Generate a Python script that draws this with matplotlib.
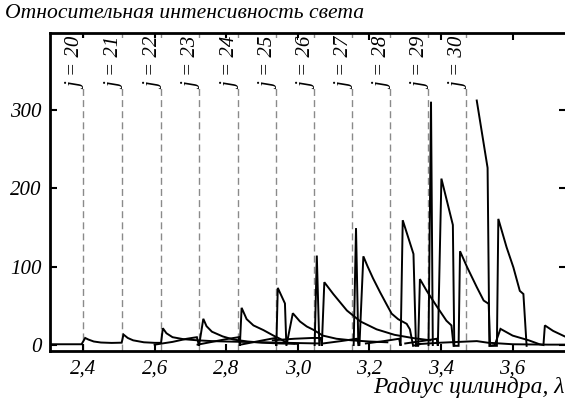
import numpy as np
import matplotlib
matplotlib.use("Agg")
import matplotlib.pyplot as plt
from matplotlib.transforms import offset_copy, blended_transform_factory

# ---------------- data ----------------
title_text = "Относительная интенсивность света"
xlabel_text = "Радиус цилиндра, λ"
x_ticks = [2.4, 2.6, 2.8, 3.0, 3.2, 3.4, 3.6]
x_ticklabels = ["2,4", "2,6", "2,8", "3,0", "3,2", "3,4", "3,6"]
y_ticks = [0, 100, 200, 300]
y_ticklabels = ["0", "100", "200", "300"]

j_orders = [20, 21, 22, 23, 24, 25, 26, 27, 28, 29, 30]
j_radii = [2.400, 2.509, 2.618, 2.724, 2.833, 2.939, 3.045, 3.151, 3.258, 3.364, 3.470]

c1_x = [2.308, 2.396, 2.406, 2.415, 2.43, 2.45, 2.48, 2.508, 2.513, 2.525, 2.54, 2.57, 2.60,
        2.618, 2.623, 2.633, 2.65, 2.68, 2.72, 2.76, 2.80, 2.85, 2.90, 2.95, 3.00, 3.06]
c1_y = [1, 1, 9, 7, 4.5, 3.2, 2.7, 3, 13.4, 9, 6, 3.5, 2.8,
        2.8, 21.4, 15, 10, 7.5, 6, 5, 4.5, 4, 3.5, 3, 2.5, 2]

c2_x = [2.60, 2.65, 2.69, 2.718, 2.724, 2.736, 2.745, 2.76, 2.79, 2.82, 2.86, 2.90, 2.95, 3.0]
c2_y = [0.5, 4, 8, 10, -1, 33.4, 24, 17, 11, 7, 4.5, 3, 2, 1.5]

c3_x = [2.72, 2.76, 2.80, 2.835, 2.838, 2.843, 2.857, 2.876, 2.904, 2.932, 2.95, 2.969, 2.99]
c3_y = [0.5, 4, 7.5, 10, -1, 47.4, 33, 25, 19, 12, 8, 3, 2]

c4_x = [2.84, 2.88, 2.92, 2.937, 2.940, 2.944, 2.964, 2.968, 2.986, 3.006, 3.025, 3.043,
        3.07, 3.108, 3.15, 3.20, 3.25]
c4_y = [0.5, 4, 7.5, 9, -1, 72.8, 53, -1, 40.5, 30, 23.6, 19.5, 12, 8, 6, 4.5, 3.5]

c5_x = [2.93, 2.99, 3.04, 3.064, 3.067, 3.074, 3.099, 3.137, 3.175, 3.22, 3.27, 3.32, 3.37]
c5_y = [6, 8, 9, 9, -1, 80, 65, 44, 30, 20, 13, 9, 6]

spike26_x = [3.047, 3.053, 3.060]
spike26_y = [0, 114, 0]
spike27_x = [3.156, 3.1625, 3.169]
spike27_y = [0, 149, 0]
spike29_x = [3.365, 3.372, 3.377]
spike29_y = [0, 310, 0]

c6_x = [3.07, 3.12, 3.165, 3.172, 3.183, 3.195, 3.21, 3.23, 3.25, 3.262, 3.28, 3.304, 3.313, 3.322, 3.34]
c6_y = [2, 5, 8, -1, 113, 100, 85, 67, 50, 40, 33, 27, 20, -1, 1]

c7_x = [3.19, 3.24, 3.283, 3.287, 3.293, 3.323, 3.330, 3.336, 3.341, 3.36, 3.387, 3.415, 3.429, 3.435]
c7_y = [2, 5, 8, -1, 159, 116, -1, -1, 84, 69, 50, 31, 25, -1]

c8_x = [3.30, 3.36, 3.388, 3.391, 3.401, 3.433, 3.437, 3.449, 3.453, 3.473, 3.50, 3.519, 3.533,
        3.537, 3.556, 3.560, 3.583, 3.602, 3.62, 3.63, 3.639]
c8_y = [2, 6, 8, -1, 212, 153, -1, -1, 119.5, 99, 73.6, 56.7, 52.5,
        -1, -1, 160.7, 124.6, 99, 69, 65, -1]

c9_x = [3.4997, 3.530, 3.535, 3.55, 3.566, 3.60, 3.645, 3.675, 3.686, 3.69, 3.713, 3.75]
c9_y = [311.5, 225.7, -1, 0, 20.6, 12, 6, 1, 0, 25, 18, 10]

c10_x = [3.33, 3.40, 3.45, 3.50, 3.53, 3.60, 3.70, 3.75]
c10_y = [1, 3, 4, 5, 3, 1, 0.5, 0.5]

curves = [(c1_x, c1_y), (c2_x, c2_y), (c3_x, c3_y), (c4_x, c4_y), (c5_x, c5_y),
          (spike26_x, spike26_y), (spike27_x, spike27_y), (spike29_x, spike29_y),
          (c6_x, c6_y), (c7_x, c7_y), (c8_x, c8_y), (c9_x, c9_y), (c10_x, c10_y)]

# ---------------- plot ----------------
plt.rcParams['font.family'] = ['Liberation Serif', 'DejaVu Serif']
plt.rcParams['font.style'] = 'italic'

W, H = 565, 401
fig = plt.figure(figsize=(W / 100, H / 100), dpi=100)
ax = fig.add_axes([50 / W, (H - 351) / H, 516 / W, (351 - 33) / H])
ax.set_xlim(2.3078, 3.749)
ax.set_ylim(-7.6, 397.5)

for xr in j_radii:
    ax.axvline(xr, color='#8a8a8a', lw=1.0, ls=(0, (5, 3)), zorder=1)

for xs, ys in curves:
    ax.plot(xs, ys, color='black', lw=1.4, zorder=3, solid_joinstyle='miter')

for j, xr in zip(j_orders, j_radii):
    tr = offset_copy(ax.transData, fig=fig, x=3.5, y=0, units='dots')
    ytr = offset_copy(ax.transAxes, fig=fig, x=0, y=-5, units='dots')
    ax.text(xr, 1, f"j = {j}", transform=blended_transform_factory(tr, ytr),
            rotation=90, ha='right', va='top', fontsize=15, fontstyle='italic',
            bbox=dict(facecolor='white', edgecolor='none', pad=0.0), zorder=2)

for s in ax.spines.values():
    s.set_linewidth(2.0)
    s.set_zorder(5)

ax.set_xticks(x_ticks)
ax.set_xticklabels(x_ticklabels, fontstyle='italic', fontsize=15)
ax.set_yticks(y_ticks)
ax.set_yticklabels(y_ticklabels, fontstyle='italic', fontsize=15)
ax.tick_params(direction='in', top=True, right=True, length=5, width=1.5, pad=6)

fig.text(5 / W, 1 - 14 / H, title_text, fontsize=15.6, fontstyle='italic', ha='left', va='center')
fig.text(565 / W, 1 - 387 / H, xlabel_text, fontsize=17, fontstyle='italic', ha='right', va='center')

fig.savefig('out.png', dpi=100)
